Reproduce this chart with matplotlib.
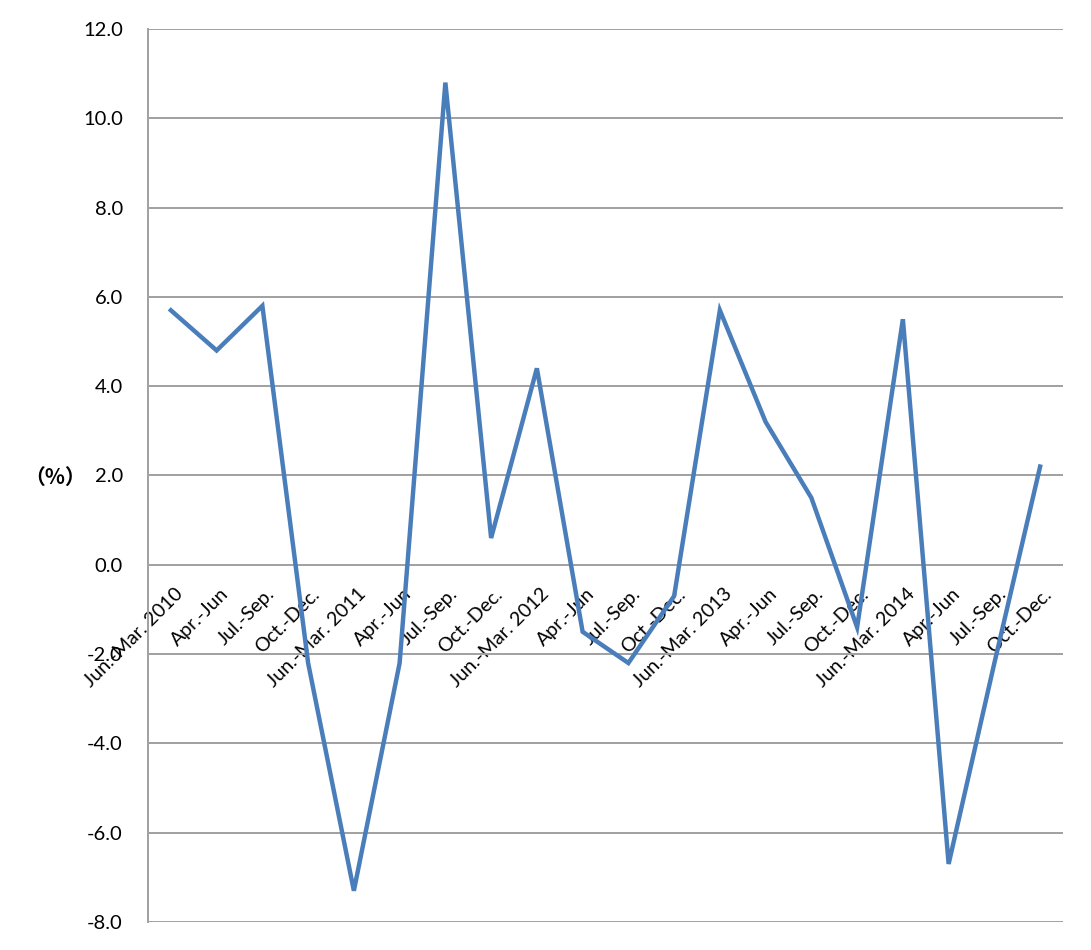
#!/usr/bin/env python3
# Wykres liniowy zmian kwartalnych (%) 2010-2014.
import matplotlib
matplotlib.use("Agg")
import matplotlib.pyplot as plt
import matplotlib.transforms as mtransforms
from matplotlib.ticker import FormatStrFormatter

# Dane.
quarters = [
    "Jun.-Mar. 2010", "Apr.-Jun", "Jul.-Sep.", "Oct.-Dec.",
    "Jun.-Mar. 2011", "Apr.-Jun", "Jul.-Sep.", "Oct.-Dec.",
    "Jun.-Mar. 2012", "Apr.-Jun", "Jul.-Sep.", "Oct.-Dec.",
    "Jun.-Mar. 2013", "Apr.-Jun", "Jul.-Sep.", "Oct.-Dec.",
    "Jun.-Mar. 2014", "Apr.-Jun", "Jul.-Sep.", "Oct.-Dec.",
]
values = [
    5.7, 4.8, 5.8, -2.2,
    -7.3, -2.2, 10.8, 0.6,
    4.4, -1.5, -2.2, -0.7,
    5.7, 3.2, 1.5, -1.4,
    5.5, -6.7, -2.2, 2.2,
]
y_ticks = [-8, -6, -4, -2, 0, 2, 4, 6, 8, 10, 12]

GRID = "#a0a0a0"
LINE = "#4a7ebb"

plt.rcParams["font.family"] = ["Lato", "DejaVu Sans"]

fig = plt.figure(figsize=(10.91, 9.5), dpi=100)
ax = fig.add_axes([148 / 1091, 1 - 922 / 950, (1063 - 148) / 1091, (922 - 29) / 950])

x = list(range(len(values)))
ax.plot(x, values, color=LINE, linewidth=3.2, solid_joinstyle="miter", zorder=3)

ax.set_xlim(-0.5, len(values) - 0.5)
ax.set_ylim(-8, 12)
ax.set_yticks(y_ticks)
ax.yaxis.set_major_formatter(FormatStrFormatter("%.1f"))
ax.grid(axis="y", color=GRID, linewidth=1.4, zorder=1)

for side in ["top", "right"]:
    ax.spines[side].set_visible(False)
ax.spines["left"].set_color(GRID)
ax.spines["left"].set_linewidth(1.4)
ax.spines["bottom"].set_position(("data", 0))
ax.spines["bottom"].set_visible(False)

ax.tick_params(axis="y", length=0, pad=18, labelsize=14.5)
ax.tick_params(axis="x", length=0, pad=19, labelsize=14)
ax.set_xticks(x)
ax.set_xticklabels(quarters, rotation=45, ha="right", va="center", rotation_mode="anchor")
# Przesunięcie etykiet w prawo (jak w Excelu).
shift = mtransforms.ScaledTranslation(9 / 100, 0, fig.dpi_scale_trans)
for lab in ax.get_xticklabels():
    lab.set_transform(lab.get_transform() + shift)

fig.text(55 / 1091, 1 - 477 / 950, "（%）", ha="center", va="center", fontsize=15,
         fontweight="bold", family=["Noto Sans CJK JP", "DejaVu Sans"])

fig.savefig("out.png", dpi=100)
